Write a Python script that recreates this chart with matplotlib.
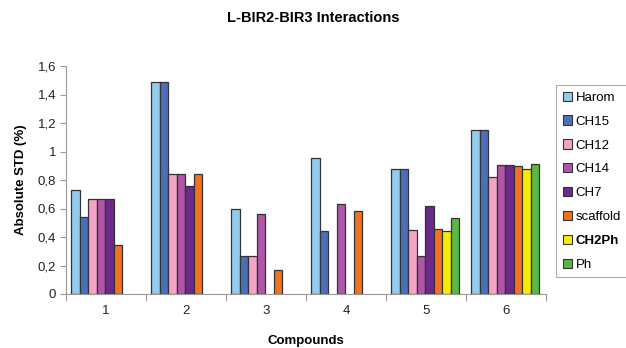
import matplotlib
matplotlib.use("Agg")
import matplotlib.pyplot as plt
import numpy as np
from matplotlib.patches import Patch

plt.rcParams['font.family'] = ['Liberation Sans', 'DejaVu Sans']

nan = float('nan')
categories = ["1", "2", "3", "4", "5", "6"]
series = ["Harom", "CH15", "CH12", "CH14", "CH7", "scaffold", "CH2Ph", "Ph"]
Harom    = [0.73, 1.49, 0.60, 0.955, 0.875, 1.15]
CH15     = [0.54, 1.49, 0.27, 0.44, 0.875, 1.15]
CH12     = [0.67, 0.84, 0.27, nan, 0.45, 0.82]
CH14     = [0.67, 0.84, 0.56, 0.63, 0.27, 0.905]
CH7      = [0.67, 0.76, nan, nan, 0.615, 0.905]
scaffold = [0.345, 0.84, 0.165, 0.58, 0.455, 0.90]
CH2Ph    = [nan, nan, nan, nan, 0.44, 0.875]
Ph       = [nan, nan, nan, nan, 0.535, 0.915]
values = [Harom, CH15, CH12, CH14, CH7, scaffold, CH2Ph, Ph]
colors = ["#96CAEC", "#4B6FB8", "#F4A3C9", "#B056A7", "#6B2A8B", "#F07222", "#F6EA0A", "#5BB748"]
yticks = [0, 0.2, 0.4, 0.6, 0.8, 1.0, 1.2, 1.4, 1.6]
ytick_labels = ["0", "0,2", "0,4", "0,6", "0,8", "1", "1,2", "1,4", "1,6"]

fig = plt.figure(figsize=(6.26, 3.48), dpi=100)
ax = fig.add_axes([66/626, 1-294/348, 480/626, 228/348])

x = np.arange(len(categories))
n = len(series)
total = 0.855
w = total / n
for i, (vals, c) in enumerate(zip(values, colors)):
    pos = x - total/2 + w*(i+0.5) - 0.01
    vals = np.array(vals, dtype=float)
    m = ~np.isnan(vals)
    ax.bar(pos[m], vals[m], width=w, color=c, edgecolor="#333333", linewidth=0.9, zorder=3)

ax.set_xlim(-0.5, len(categories)-0.5)
ax.set_ylim(0, 1.6)
ax.set_yticks(yticks)
ax.set_yticklabels(ytick_labels, fontsize=9.5, color="#222222")
ax.set_xticks(np.arange(len(categories)+1) - 0.5)
ax.set_xticklabels([])
ax.set_xticks(x, minor=True)
ax.set_xticklabels(categories, minor=True, fontsize=9.5, color="#222222")
ax.tick_params(axis='x', which='major', length=5, color="#999999", direction='out')
ax.tick_params(axis='x', which='minor', length=0, pad=8)
ax.tick_params(axis='y', length=4, color="#999999", direction='out', pad=3)
for s in ["top", "right"]:
    ax.spines[s].set_visible(False)
for s in ["left", "bottom"]:
    ax.spines[s].set_color("#999999")
    ax.spines[s].set_linewidth(0.8)

ax.set_xlabel("Compounds", fontsize=9.5, fontweight='bold', labelpad=13)
ax.set_ylabel("Absolute STD (%)", fontsize=9.5, fontweight='bold', labelpad=8)
fig.text(0.5, 1-18/348, "L-BIR2-BIR3 Interactions", ha='center', va='center',
         fontsize=10.5, fontweight='bold')

handles = [Patch(facecolor=c, edgecolor="#333333", linewidth=0.8) for c in colors]
leg = fig.legend(handles, series, loc='upper left', bbox_to_anchor=(556/626, 1-85/348),
                 fontsize=9.5, frameon=True, fancybox=False, handlelength=0.7,
                 handleheight=0.7, handletextpad=0.3, labelspacing=0.88,
                 borderpad=0.5, borderaxespad=0)
leg.get_frame().set_edgecolor("#999999")
leg.get_frame().set_linewidth(0.8)
for t in leg.get_texts():
    if t.get_text() == "CH2Ph":
        t.set_fontweight('bold')

fig.savefig("out.png", dpi=100)
